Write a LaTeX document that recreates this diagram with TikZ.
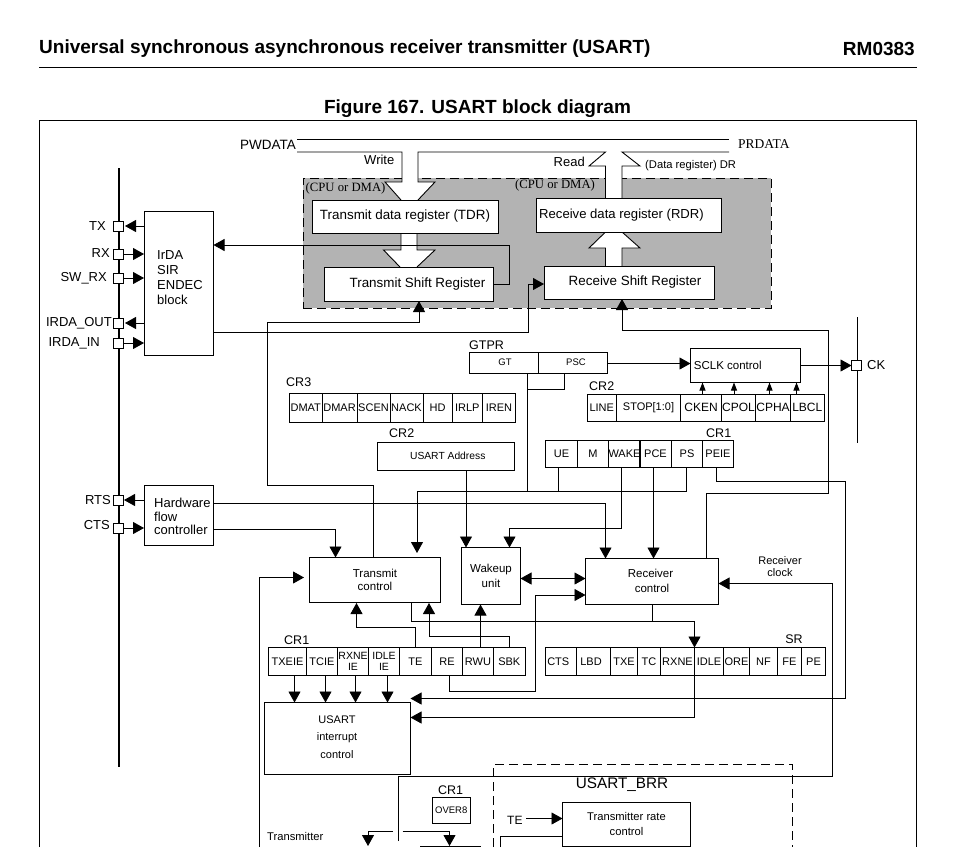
\documentclass[tikz,border=0pt]{standalone}
\usepackage{fontspec}
\setmainfont{Liberation Sans}
\newfontfamily\tmsfont{Liberation Serif}
\usetikzlibrary{arrows.meta,calc}
\definecolor{greyb}{HTML}{B3B3B3}
\newcommand\fz[2]{\fontsize{#1}{#2}\selectfont}
\newcommand\rbox[7][]{%
  \pgfmathsetmacro\rw{#5-#3}\pgfmathsetmacro\rh{#6-#4}%
  \node[bx,minimum width=\rw pt,minimum height=\rh pt,anchor=north west,#1] (#2) at (#3,#4) {#7};}
\newcommand\pinbox[3]{\node[pinb] (#1) at (#2,#3) {};}
\tikzset{
  bx/.style={draw=black,line width=0.9pt,inner sep=0pt,outer sep=0pt,align=center,font=\fz{11}{15}},
  pinb/.style={draw=black,fill=white,line width=0.9pt,minimum size=10pt,inner sep=0pt,outer sep=0pt},
  wire/.style={draw=black,line width=0.9pt},
  arr/.style={wire,-{Triangle[length=11pt,width=12pt]}},
  tinyarr/.style={wire,-{Triangle[length=8pt,width=6pt]}},
  dblarr/.style={wire,{Triangle[length=11pt,width=12pt]}-{Triangle[length=11pt,width=12pt]}},
  cellt/.style={font=\fz{11}{12}},
  cellb/.style={font=\fz{12}{13}},
  lab/.style={inner sep=0pt,font=\fz{13}{15}},
  smalllab/.style={inner sep=0pt,font=\fz{11}{15}},
  dashb/.style={draw=black,line width=0.9pt,dash pattern=on 9pt off 5pt},
  shapew/.style={fill=white,draw=none},
}
\begin{document}
\begin{tikzpicture}[x=1pt,y=-1pt]
\useasboundingbox (0,0) rectangle (960,847);
\fill[white] (0,0) rectangle (960,847);
% page header
\node[inner sep=0pt,anchor=west,font=\fz{19}{22}\bfseries] (hdr) at (39,48.5) {Universal synchronous asynchronous receiver transmitter (USART)};
\node[inner sep=0pt,anchor=east,font=\fz{19}{22}\bfseries] (rm) at (915,48.5) {RM0383};
\draw[line width=0.9pt] (39,67) -- (917,67);
\node[inner sep=0pt,font=\fz{19}{22}\bfseries] (fig) at (477.5,109) {Figure 167. USART block diagram};
\draw[line width=0.9pt] (39.5,847) -- (39.5,120.5) -- (916,120.5) -- (916,847);
% grey area
\rbox[fill=greyb,dash pattern=on 9pt off 5pt]{grey}{303}{178}{771}{308}{}
% white bus arrows
\fill[shapew] (402,170) -- (402,182) -- (385,182) -- (401,200) -- (418,200) -- (435,182) -- (418,182) -- (418,170) -- cycle;
\fill[shapew] (605.5,198) -- (605.5,166) -- (589,166) -- (605.5,150) -- (622,150) -- (640,166) -- (622,166) -- (622,198) -- cycle;
\fill[shapew] (401,233) -- (401,250) -- (383.5,250) -- (400,267) -- (417,267) -- (435,250) -- (417,250) -- (417,233) -- cycle;
\fill[shapew] (605.5,266) -- (605.5,248) -- (589,248) -- (605.5,232) -- (622,232) -- (640,248) -- (622,248) -- (622,266) -- cycle;
\draw[wire] (297,139) -- (729,139);
\draw[wire] (297,152) -- (402,152) -- (402,182) -- (385,182) -- (401,200);
\draw[wire] (418,200) -- (435,182) -- (418,182) -- (418,152) -- (605.5,152) -- (589,166) -- (605.5,166) -- (605.5,198);
\draw[wire] (729,152) -- (622,152) -- (640,166) -- (622,166) -- (622,198);
\draw[wire] (401,233) -- (401,250) -- (383.5,250) -- (400,267);
\draw[wire] (417,233) -- (417,250) -- (435,250) -- (417,267);
\draw[wire] (605.5,266) -- (605.5,248) -- (589,248) -- (605.5,232);
\draw[wire] (622,266) -- (622,248) -- (640,248) -- (622,232);
% registers in the grey area
\rbox[fill=white,font=\fz{13.4}{15}]{tdr}{312}{200}{498}{233}{\raisebox{-1.5pt}{Transmit data register (TDR)}}
\rbox[fill=white,font=\fz{13.1}{15}]{rdr}{536}{198}{721}{232}{\hspace*{-14pt}\raisebox{-1.5pt}{Receive data register (RDR)}}
\rbox[fill=white,font=\fz{13.4}{15}]{tsr}{324}{267}{493}{301}{\hspace*{18pt}\raisebox{-1.5pt}{Transmit Shift Register}}
\rbox[fill=white,font=\fz{13.4}{15}]{rsr}{544}{266}{714}{299}{\hspace*{12pt}\raisebox{-1.5pt}{Receive Shift Register}}
\node[lab,anchor=east,font=\fz{13.5}{15}] (pwd) at (296,144.5) {PWDATA};
\node[inner sep=0pt,anchor=west,font=\fz{13.5}{15}\tmsfont] (prd) at (738,144.5) {PRDATA};
\node[inner sep=0pt,anchor=east,font=\fz{13}{15}] (wrt) at (394.5,159.5) {Write};
\node[inner sep=0pt,anchor=east,font=\fz{13}{15}] (rd) at (585,161.5) {Read};
\node[inner sep=0pt,anchor=west,font=\fz{11.2}{15}] (drl) at (645,166) {(Data register) DR};
\node[inner sep=0pt,anchor=west,font=\fz{12.7}{15}\tmsfont] (cpu1) at (305.5,188) {(CPU or DMA)};
\node[inner sep=0pt,anchor=west,font=\fz{12.7}{15}\tmsfont] (cpu2) at (515,185) {(CPU or DMA)};
% bus on the left
\draw[line width=2pt] (119,168) -- (119,767);
\draw[line width=0.9pt] (857,317) -- (857,443);
\pinbox{ptx}{118}{226}\pinbox{prx}{118}{254}\pinbox{psw}{118}{278}\pinbox{pout}{118}{323}\pinbox{pin}{118}{343}\pinbox{prts}{118}{500}\pinbox{pcts}{118}{528}\pinbox{pck}{856.5}{365.5}
\node[lab,anchor=east] at (106,226) (ltx) {TX};
\node[lab,anchor=east] at (110,253) (lrx) {RX};
\node[lab,anchor=east] at (107,278) (lsw) {SW\_RX};
\node[lab,anchor=east] at (112,323) (lout) {IRDA\_OUT};
\node[lab,anchor=east] at (100,343) (lin) {IRDA\_IN};
\node[lab,anchor=east] at (111,500) (lrts) {RTS};
\node[lab,anchor=east] at (110,525.5) (lcts) {CTS};
\node[lab,anchor=west] at (867,365.5) (lck) {CK};
% IrDA, hardware flow
\rbox{irda}{144}{211.5}{213.5}{355.5}{}
\node[inner sep=0pt,anchor=west,align=left,font=\fz{13}{15}] (irdat) at (157,277.5) {IrDA\\SIR\\ENDEC\\block};
\rbox{hw}{144}{485.5}{213.5}{545}{}
\node[inner sep=0pt,anchor=west,align=left,font=\fz{13}{13.5}] (hwt) at (154,516.5) {Hardware\\flow\\controller};
\draw[arr] (irda.west |- ptx) -- (125,226);
\draw[arr] (prx.east) -- (irda.west |- prx);
\draw[arr] (psw.east) -- (irda.west |- psw);
\draw[arr] (irda.west |- pout) -- (125,323);
\draw[arr] (pin.east) -- (irda.west |- pin);
\draw[arr] (hw.west |- prts) -- (124,500);
\draw[arr] (pcts.east) -- (hw.west |- pcts);
% GTPR
\node[smalllab,anchor=west,font=\fz{12.5}{15}] (lgt) at (469,345.5) {GTPR};
\rbox[font=\fz{9.5}{12}]{gt}{469.5}{352}{538.5}{373}{\hspace*{2pt}GT}
\rbox[font=\fz{9.5}{12}]{psc}{538.5}{352}{607.5}{373}{\hspace*{6pt}PSC}
% SCLK
\rbox[font=\fz{11.5}{15}]{sclk}{690.5}{348.5}{800}{382.5}{\hspace*{-35pt}SCLK control}
\draw[arr] (psc.east |- 0,363.5) -- (sclk.west |- 0,363.5);
\draw[arr] (sclk.east |- 0,365.5) -- (pck.west);
% CR3
\node[smalllab,anchor=west,font=\fz{12.5}{15}] (lcr3) at (286,382.5) {CR3};
\rbox[cellt]{dmat}{289.5}{393}{322}{422}{DMAT}
\rbox[cellt]{dmar}{322}{393}{357}{422}{DMAR}
\rbox[cellt]{scen}{357}{393}{390}{422}{SCEN}
\rbox[cellt]{nack}{390}{393}{423}{422}{NACK}
\rbox[cellt]{hd}{423}{393}{452}{422}{HD}
\rbox[cellt]{irlp}{452}{393}{482.5}{422}{IRLP}
\rbox[cellt]{iren}{482.5}{393}{515.5}{422}{IREN}
% CR2 upper
\node[smalllab,anchor=west,font=\fz{12.5}{15}] (lcr2a) at (589,386.5) {CR2};
\rbox[cellt]{line}{587}{394.5}{616.5}{421}{LINE}
\rbox[cellt]{stop}{616.5}{394.5}{680.5}{421}{STOP[1:0]}
\rbox[cellb]{cken}{680.5}{394.5}{721.5}{421}{CKEN}
\rbox[cellb]{cpol}{721.5}{394.5}{755.5}{421}{CPOL}
\rbox[cellb]{cpha}{755.5}{394.5}{790.5}{421}{CPHA}
\rbox[cellb]{lbcl}{790.5}{394.5}{824}{421}{LBCL}
\draw[tinyarr] (702.5,394.5) -- (702.5,0 |- sclk.south);
\draw[tinyarr] (734,394.5) -- (734,0 |- sclk.south);
\draw[tinyarr] (769.5,394.5) -- (769.5,0 |- sclk.south);
\draw[tinyarr] (796.5,394.5) -- (796.5,0 |- sclk.south);
% CR2 lower
\node[smalllab,anchor=west,font=\fz{12.5}{15}] (lcr2b) at (389,433) {CR2};
\rbox[font=\fz{10.3}{12}]{addr}{377}{442}{514.5}{470}{\hspace*{4pt}USART Address}
% CR1 upper
\node[smalllab,anchor=west,font=\fz{12.5}{15}] (lcr1a) at (706,433.5) {CR1};
\rbox[cellt]{ue}{545.5}{440}{577.5}{467.5}{UE}
\rbox[cellt]{m}{577.5}{440}{608.5}{467.5}{M}
\rbox[cellt]{wake}{608.5}{440}{639.5}{467.5}{WAKE}
\rbox[cellt]{pce}{639.5}{440}{671.5}{467.5}{PCE}
\rbox[cellt]{ps}{671.5}{440}{702.5}{467.5}{PS}
\rbox[cellt]{peie}{702.5}{440}{733.5}{467.5}{PEIE}
% control blocks
\rbox{tc}{309.5}{557.5}{440.5}{602.5}{\raisebox{5.5pt}{\parbox{60pt}{\centering\fz{11.5}{13}Transmit\\control}}}
\rbox{wk}{461.5}{547.5}{520.5}{604.5}{\raisebox{2pt}{\parbox{50pt}{\centering\fz{11.5}{15}Wakeup\\unit}}}
\rbox{rc}{585.5}{558.5}{718.5}{604}{\raisebox{4pt}{\parbox{70pt}{\centering\hspace*{-3pt}\fz{11.5}{15}Receiver\\control}}}
\node[inner sep=0pt,align=center,font=\fz{11}{12}] (rclk) at (780,567) {Receiver\\clock};
% CR1 lower
\node[smalllab,anchor=west,font=\fz{12.5}{15}] (lcr1b) at (284,640.5) {CR1};
\rbox[cellt]{txeie}{268.5}{647.5}{306.5}{675.5}{TXEIE}
\rbox[cellt]{tcie}{306.5}{647.5}{337.5}{675.5}{TCIE}
\rbox[font=\fz{10.5}{11}]{rxneie}{337.5}{647.5}{368.5}{675.5}{RXNE\\IE}
\rbox[font=\fz{10.5}{11}]{idleie}{368.5}{647.5}{399.5}{675.5}{IDLE\\IE}
\rbox[cellt]{te}{399.5}{647.5}{431.5}{675.5}{TE}
\rbox[cellt]{re}{431.5}{647.5}{462.5}{675.5}{RE}
\rbox[cellt]{rwu}{462.5}{647.5}{493.5}{675.5}{RWU}
\rbox[cellt]{sbk}{493.5}{647.5}{525}{675.5}{SBK}
% SR
\node[smalllab,font=\fz{12.5}{15}] (lsr) at (794,639.5) {SR};
\rbox[cellt]{cts}{545}{647.5}{576.5}{675.5}{\hspace*{-5pt}CTS}
\rbox[cellt]{lbd}{576.5}{647.5}{610.5}{675.5}{\hspace*{-5pt}LBD}
\rbox[cellt]{txe}{610.5}{647.5}{637.5}{675.5}{TXE}
\rbox[cellt]{tcf}{637.5}{647.5}{660.5}{675.5}{TC}
\rbox[cellt]{rxne}{660.5}{647.5}{694.5}{675.5}{RXNE}
\rbox[cellt]{idle}{694.5}{647.5}{723.5}{675.5}{IDLE}
\rbox[cellt]{ore}{723.5}{647.5}{749.5}{675.5}{ORE}
\rbox[cellt]{nf}{749.5}{647.5}{777.5}{675.5}{NF}
\rbox[cellt]{fe}{777.5}{647.5}{801.5}{675.5}{FE}
\rbox[cellt]{pe}{801.5}{647.5}{825.5}{675.5}{PE}
% interrupt control
\rbox{ic}{264.5}{702.5}{410.5}{774.5}{}
\node[inner sep=0pt,align=center,font=\fz{11}{17.5}] (ict) at (337,737) {USART\\interrupt\\control};
% lower part
\node[inner sep=0pt,font=\fz{15.3}{16}] (lbrr) at (622,785) {USART\_BRR};
\draw[dashb] (493.5,847) -- (493.5,764.5) -- (792.5,764.5) -- (792.5,847);
\node[smalllab,font=\fz{12.5}{15}] (lcr1c) at (450.5,790.5) {CR1};
\rbox[font=\fz{9.5}{12}]{over}{432}{797.5}{470.5}{823.5}{OVER8}
\rbox[font=\fz{11.2}{15}]{trc}{562.5}{802.5}{690.5}{846}{Transmitter rate\\control}
\node[smalllab,anchor=west,font=\fz{12}{15}] (lte) at (507,820) {TE};
\node[inner sep=0pt,anchor=west,font=\fz{11.2}{12}] (ltrans) at (267,836) {Transmitter};
\coordinate (teo) at (526,818.5);
\draw[arr] (teo) -- (trc.west |- teo);
\draw[wire] (500.5,847) -- (500.5,836) -- (trc.west |- 0,836);
\draw[arr] (393,831) -- (368,831) -- (368,846);
\draw[arr] (402.5,831) -- (449.5,831) -- (449.5,846);
\draw[wire] (420,846.5) -- (481,846.5);
% connectors
\draw[wire] (irda.east |- 0,332) -- (528.5,332) -- (528.5,284);
\draw[arr] (528.5,284) -- (rsr.west |- 0,284);
\draw[arr] (509,245) -- (irda.east |- 0,245);
\draw[wire] (tsr.east |- 0,284) -- (509,284) -- (509,245);
\draw[arr] (373.5,558) -- (373.5,485) -- (267,485) -- (267,322) -- (419,322) -- (419,0 |- tsr.south);
\draw[arr] (rc.north -| 706.5,0) -- (706.5,493) -- (828,493) -- (828,330) -- (622,330) -- (622,0 |- rsr.south);
\draw[wire] (hw.east |- 0,503.5) -- (605.5,503.5);
\draw[arr] (605.5,503.5) -- (605.5,0 |- rc.north);
\draw[arr] (hw.east |- 0,529.5) -- (335.5,529.5) -- (335.5,0 |- tc.north);
\draw[arr] (686,467.5) -- (686,491.5) -- (417,491.5) -- (417,553);
\draw[wire] (564,373) -- (564,389.5) -- (527.5,389.5);
\draw[wire] (527.5,373) -- (527.5,491.5);
\draw[wire] (558.5,467.5) -- (558.5,491.5);
\draw[arr] (466,470) -- (466,0 |- wk.north);
\draw[arr] (621.5,467.5) -- (621.5,528.5) -- (509.5,528.5) -- (509.5,0 |- wk.north);
\draw[arr] (653.5,467.5) -- (653.5,0 |- rc.north);
\draw[arr] (716,467.5) -- (716,481.5) -- (845.5,481.5) -- (845.5,698.5) -- (ic.east |- 0,698.5);
\draw[dblarr] (wk.east |- 0,578.5) -- (rc.west |- 0,578.5);
\draw[arr] (449.5,675.5) -- (449.5,691.5) -- (535,691.5) -- (535,595) -- (rc.west |- 0,595);
\draw[arr] (259,847) -- (259,577.5) -- (304,577.5);
\draw[arr] (415.5,647.5) -- (415.5,627.5) -- (356.5,627.5) -- (356.5,603);
\draw[arr] (509.5,647.5) -- (509.5,636.5) -- (429,636.5) -- (429,603);
\draw[arr] (480.5,647.5) -- (480.5,0 |- wk.south);
\draw[wire] (411.5,602.5) -- (411.5,621) -- (694.5,621);
\draw[wire] (652.5,604) -- (652.5,621);
\draw[arr] (694.5,621) -- (694.5,647.5);
\draw[wire] (694.5,647.5) -- (694.5,717.5);
\draw[arr] (694.5,717.5) -- (ic.east |- 0,717.5);
\draw[arr] (294.5,675.5) -- (294.5,0 |- ic.north);
\draw[arr] (325.5,675.5) -- (325.5,0 |- ic.north);
\draw[arr] (355.5,675.5) -- (355.5,0 |- ic.north);
\draw[arr] (387.5,675.5) -- (387.5,0 |- ic.north);
\draw[arr] (398,841) -- (398,776.5) -- (832.5,776.5) -- (832.5,583.5) -- (rc.east |- 0,583.5);
\end{tikzpicture}
\end{document}
